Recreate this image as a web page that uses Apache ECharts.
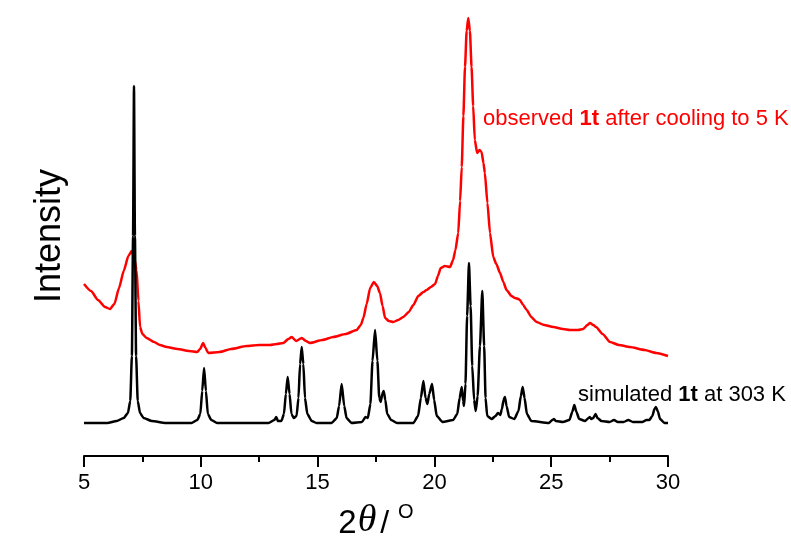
<!DOCTYPE html>
<html>
<head>
<meta charset="utf-8">
<script src="https://cdn.jsdelivr.net/npm/echarts@6/dist/echarts.min.js"></script>
<style>html,body{margin:0;padding:0;background:#fff}#c{width:791px;height:558px}</style>
</head>
<body>
<div id="c"></div>
<script>
// x axis ticks
const xTicks = [5, 10, 15, 20, 25, 30];

// simulated 1t at 303 K : [2theta, intensity (arb.)]
const simulated = [
[5.0,33],[6.0,33],[6.4,35],[6.7,38],[6.88,43],[6.98,55],[7.05,100],[7.1,220],[7.14,370],[7.18,220],[7.23,100],[7.3,55],[7.4,43],[7.55,38],[7.9,35],[8.5,33],
[9.6,33],[9.85,36],[9.98,42],[10.06,65],[10.14,88],[10.22,65],[10.3,42],[10.45,36],[10.7,33],
[12.9,33],[13.15,36],[13.23,39],[13.3,35],[13.45,35],[13.56,42],[13.64,62],[13.72,79],[13.8,62],[13.88,42],[13.98,38],[14.1,40],[14.18,58],[14.25,92],[14.32,109],[14.39,92],[14.46,58],[14.56,42],[14.75,35],[14.95,33],
[15.6,33],[15.82,38],[15.92,50],[16.03,72],[16.14,50],[16.24,38],[16.45,33],
[16.9,34],[17.05,39],[17.15,38],[17.26,52],[17.35,95],[17.46,126],[17.56,95],[17.64,58],[17.7,54],[17.77,62],[17.83,65],[17.9,56],[17.98,42],[18.15,36],[18.4,33],
[19.1,33],[19.3,40],[19.42,58],[19.53,75],[19.62,58],[19.7,52],[19.78,62],[19.9,72],[19.99,56],[20.1,40],[20.35,34],
[20.8,36],[20.98,42],[21.08,58],[21.17,69],[21.23,55],[21.27,50],[21.33,72],[21.4,140],[21.48,193],[21.55,150],[21.62,90],[21.7,56],[21.77,45],[21.85,60],[21.95,110],[22.05,165],[22.13,110],[22.19,58],[22.26,40],
[22.45,37],[22.62,40],[22.72,43],[22.82,41],[22.89,47],[22.96,56],[23.02,59],[23.09,50],[23.2,39],[23.42,37],[23.6,45],[23.7,60],[23.78,69],[23.86,58],[23.96,42],[24.15,35],
[24.9,33],[25.05,36],[25.12,37],[25.2,35],[25.5,34],[25.78,36],[25.9,44],[25.99,51],[26.08,44],[26.2,37],[26.45,35],[26.6,38],[26.65,39],[26.72,37],[26.8,38],[26.9,42],[26.98,38],[27.15,35],
[27.5,34],[27.69,36],[27.85,34],[28.1,34],[28.3,36],[28.5,34],[28.9,34],[29.08,36],[29.2,36],[29.33,40],[29.42,47],[29.48,49],[29.56,45],[29.66,37],[29.85,33],[30.0,33]
];

// observed 1t after cooling to 5 K
const observed = [
[5.0,172],[5.3,165],[5.6,156],[5.9,149],[6.11,147],[6.3,152],[6.5,168],[6.7,185],[6.9,200],[7.04,205],[7.15,198],[7.25,186],[7.33,155],[7.4,129],[7.5,122],[7.68,118],[8.0,114],[8.25,111],[8.54,109],[9.0,107],[9.5,105],[9.85,104],[9.97,107],[10.1,113],[10.2,108],[10.32,103],[10.8,104],[11.3,107],[11.96,110],[12.5,111],[12.96,111],[13.25,112],[13.53,113],[13.75,117],[13.89,119],[14.08,115],[14.32,118],[14.5,115],[14.67,113],[15.2,116],[15.67,119],[16.2,122],[16.67,126],[16.85,131],[16.96,138],[17.1,152],[17.25,168],[17.41,174],[17.55,170],[17.67,163],[17.78,150],[17.89,138],[18.05,135],[18.24,134],[18.45,136],[18.67,139],[18.9,144],[19.1,151],[19.31,160],[19.53,164],[19.67,166],[19.85,169],[20.03,172],[20.15,180],[20.27,188],[20.45,190],[20.67,189],[20.8,196],[20.9,206],[21.02,223],[21.1,255],[21.17,289],[21.24,340],[21.31,389],[21.38,425],[21.45,438],[21.52,425],[21.59,389],[21.66,350],[21.73,316],[21.83,303],[21.93,306],[22.02,304],[22.1,293],[22.16,283],[22.27,253],[22.38,223],[22.52,199],[22.65,192],[22.81,183],[22.95,174],[23.09,166],[23.3,160],[23.45,158],[23.6,157],[23.66,156],[23.8,151],[23.95,146],[24.15,139],[24.37,134],[24.7,131],[25.09,129],[25.5,127],[25.8,126],[26.15,126],[26.37,127],[26.55,131],[26.66,133],[26.8,131],[26.92,129],[27.2,122],[27.52,114],[27.9,111],[28.37,109],[29.0,106],[29.5,103],[30.0,100]
];

const FONT = '"Liberation Sans", Arial, sans-serif';
const chart = echarts.init(document.getElementById('c'), null, {renderer: 'canvas'});
chart.setOption({
  animation: false,
  backgroundColor: '#fff',
  grid: {left: 84, right: 123, top: 16, bottom: 102},
  xAxis: {
    type: 'value', min: xTicks[0], max: xTicks[xTicks.length - 1], interval: 5,
    axisLine: {lineStyle: {color: '#000', width: 2}},
    axisTick: {length: 11, lineStyle: {color: '#000', width: 2}},
    minorTick: {show: true, splitNumber: 2, length: 6, lineStyle: {color: '#000', width: 2}},
    splitLine: {show: false},
    axisLabel: {color: '#000', fontSize: 22, fontFamily: FONT, margin: 16},
    name: '{n|2}{t|θ}{s|/ }{o|O}',
    nameLocation: 'middle', nameGap: 46,
    nameTextStyle: {
      rich: {
        n: {fontSize: 33, fontFamily: FONT, color: '#000', verticalAlign: 'bottom'},
        t: {fontSize: 38, fontFamily: '"Liberation Serif", serif', fontStyle: 'italic', color: '#000', verticalAlign: 'bottom', padding: [0, 4, 0, 1]},
        s: {fontSize: 32, fontFamily: FONT, fontWeight: 'lighter', color: '#000', verticalAlign: 'bottom'},
        o: {fontSize: 20, fontFamily: FONT, color: '#000', verticalAlign: 'top'}
      }
    }
  },
  yAxis: {
    type: 'value', min: 0, max: 440,
    axisLine: {show: false}, axisTick: {show: false}, axisLabel: {show: false}, splitLine: {show: false},
    name: 'Intensity', nameLocation: 'middle', nameGap: 16,
    nameTextStyle: {fontSize: 36, fontFamily: FONT, color: '#000'}
  },
  series: [
    {type: 'line', data: observed, showSymbol: false, smooth: 0.2, smoothMonotone: 'x',
     lineStyle: {color: '#ff0000', width: 2.5}, z: 2},
    {type: 'line', data: simulated, showSymbol: false, smooth: 0.2, smoothMonotone: 'x',
     lineStyle: {color: '#000', width: 2.5}, z: 3}
  ],
  graphic: [
    {type: 'text', left: 483, top: 108, style: {
      text: '{a|observed }{b|1t}{a| after cooling to 5 K}',
      rich: {a: {fontSize: 22, fontFamily: FONT, fill: '#ff0000'}, b: {fontSize: 22, fontFamily: FONT, fontWeight: 'bold', fill: '#ff0000'}}
    }},
    {type: 'text', left: 578, top: 384, style: {
      text: '{a|simulated }{b|1t}{a| at 303 K}',
      rich: {a: {fontSize: 22, fontFamily: FONT, fill: '#000'}, b: {fontSize: 22, fontFamily: FONT, fontWeight: 'bold', fill: '#000'}}
    }}
  ]
});
</script>
</body>
</html>
